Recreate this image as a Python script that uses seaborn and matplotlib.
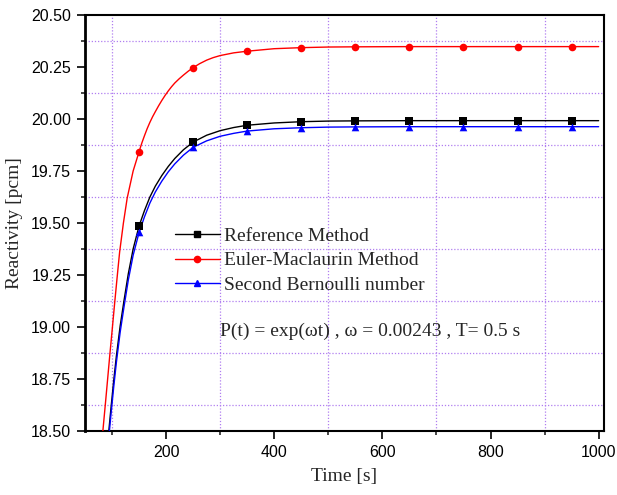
import numpy as np
import pandas as pd
import matplotlib.pyplot as plt
import seaborn as sns
from matplotlib.lines import Line2D
from matplotlib.ticker import MultipleLocator

# marker points (every 100 s)
t_marks = [150, 250, 350, 450, 550, 650, 750, 850, 950]
ref_marks = [19.486, 19.891, 19.970, 19.987, 19.991, 19.992, 19.992, 19.992, 19.992]
em_marks = [19.843, 20.247, 20.325, 20.343, 20.347, 20.348, 20.348, 20.348, 20.348]
sb_marks = [19.455, 19.865, 19.942, 19.958, 19.962, 19.963, 19.963, 19.963, 19.963]

# smooth curves
t_ref = [94, 98, 103, 108, 115, 122, 130, 139, 150, 160, 170, 180, 192, 204, 216, 232, 250,
         275, 300, 325, 350, 400, 450, 500, 550, 650, 750, 850, 950, 1000]
ref_curve = [18.50, 18.61, 18.74, 18.86, 19.005, 19.125, 19.255, 19.375, 19.486, 19.56, 19.625,
             19.677, 19.728, 19.772, 19.810, 19.852, 19.889, 19.922, 19.944, 19.959, 19.970,
             19.981, 19.987, 19.990, 19.991, 19.992, 19.992, 19.992, 19.992, 19.992]
sb_curve = [18.47, 18.58, 18.71, 18.83, 18.975, 19.095, 19.225, 19.345, 19.455, 19.53, 19.596,
            19.649, 19.701, 19.746, 19.784, 19.826, 19.864, 19.895, 19.917, 19.931, 19.942,
            19.953, 19.958, 19.961, 19.962, 19.963, 19.963, 19.963, 19.963, 19.963]

t_em = [83, 88, 92, 96, 100, 105, 110, 114, 121, 128, 139, 150, 155, 160, 165, 170, 175, 180,
        186, 192, 198, 204, 210, 216, 224, 232, 241, 250, 262, 275, 287, 300, 325, 350, 400,
        450, 500, 550, 650, 750, 850, 950, 1000]
em_curve = [18.50, 18.64, 18.755, 18.87, 18.98, 19.12, 19.255, 19.36, 19.50, 19.62, 19.75, 19.843,
            19.884, 19.92, 19.954, 19.984, 20.011, 20.035, 20.063, 20.089, 20.113, 20.135,
            20.155, 20.173, 20.193, 20.211, 20.230, 20.247, 20.266, 20.283, 20.295, 20.305,
            20.318, 20.326, 20.338, 20.343, 20.346, 20.347, 20.348, 20.348, 20.348, 20.348, 20.348]

labels = ["Reference Method", "Euler-Maclaurin Method", "Second Bernoulli number"]
colors = ["black", "#ff0000", "#0000ff"]
markers = ["s", "o", "^"]

sns.set_style("white")
plt.rcParams['font.family'] = ['Liberation Sans', 'DejaVu Sans']

fig = plt.figure(figsize=(6.17, 4.95), dpi=100)
ax = fig.add_axes([0.1378, 0.1293, 0.8412, 0.8404])

curves = [(t_ref, ref_curve), (t_em, em_curve), (t_ref, sb_curve)]
marks = [ref_marks, em_marks, sb_marks]
for (tx, cy), my, c, m in zip(curves, marks, colors, markers):
    sns.lineplot(x=tx, y=cy, color=c, lw=1, ax=ax, sort=False, zorder=3)
    sns.scatterplot(x=t_marks, y=my, color=c, marker=m, s=30, linewidth=0, ax=ax, zorder=4)

ax.set_xlim(50, 1010)
ax.set_ylim(18.5, 20.5)
ax.xaxis.set_major_locator(MultipleLocator(200))
ax.xaxis.set_minor_locator(MultipleLocator(100))
ax.yaxis.set_major_locator(MultipleLocator(0.25))
ax.yaxis.set_minor_locator(MultipleLocator(0.125))
ax.set_yticks(np.arange(18.5, 20.51, 0.25))
ax.set_yticklabels([f"{v:.2f}" for v in np.arange(18.5, 20.51, 0.25)])

# violet dotted grid on the minor ticks
ax.grid(False)
ax.xaxis.grid(True, which='minor', color='#e4d2fc', lw=1.6, ls='-', zorder=0)
ax.grid(True, which='minor', color='#b07ef0', lw=0.9, ls=(0, (1, 1.5)), zorder=1)

ax.tick_params(which='major', direction='out', length=6, width=1.2, labelsize=11.5,
               pad=4, bottom=True, left=True, top=False, right=False, colors='black')
ax.tick_params(which='minor', direction='out', length=3, width=1.2,
               bottom=True, left=True, top=False, right=False)
for side in ['left', 'bottom', 'top', 'right']:
    ax.spines[side].set_color('black')
    ax.spines[side].set_linewidth(1.5)
ax.spines['left'].set_linewidth(2)

ax.set_xlabel("Time [s]", family='Liberation Serif', fontsize=14, labelpad=6)
ax.set_ylabel("Reactivity [pcm]", family='Liberation Serif', fontsize=14, labelpad=6)

handles = [Line2D([], [], color=c, marker=m, lw=1, markersize=4.5) for c, m in zip(colors, markers)]
ax.legend(handles, labels, loc='upper left', bbox_to_anchor=(0.173, 0.49), frameon=False,
          prop={'family': 'Liberation Serif', 'size': 14}, handlelength=2.3,
          handletextpad=0.25, labelspacing=0.36, borderpad=0, borderaxespad=0)

ax.text(0.26, 0.24, "P(t) = exp(\u03c9t) , \u03c9 = 0.00243 , T= 0.5 s", transform=ax.transAxes,
        family='Liberation Serif', fontsize=14, va='center', ha='left')

fig.savefig("out.png", dpi=100)
